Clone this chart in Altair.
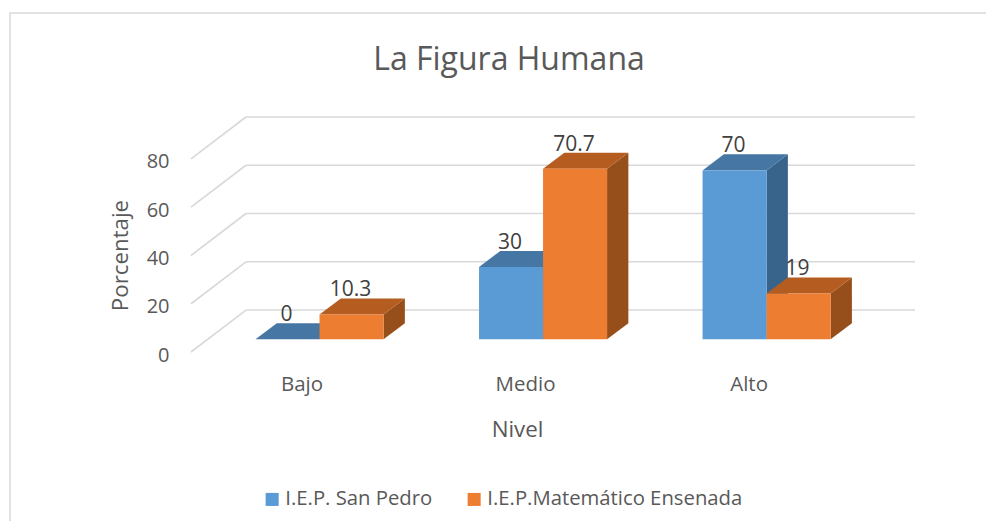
import altair as alt
import pandas as pd

# ---- data ----
categories = ["Bajo", "Medio", "Alto"]
series_names = ["I.E.P. San Pedro", "I.E.P.Matemático Ensenada"]
san_pedro = [0, 30, 70]
ensenada = [10.3, 70.7, 19]
value_labels_sp = ["0", "30", "70"]
value_labels_en = ["10.3", "70.7", "19"]
y_ticks = [0, 20, 40, 60, 80]

# ---- projection of the fake 3D (in scale units) ----
X_DOMAIN = [-0.575, 2.664]
Y_DOMAIN = [0, 97.4]
WALL_DX, WALL_DY = 0.246, 17.4
BASE_DY = 5.27
BAR_HALF = 0.2864
BAR_DX, BAR_DY = 0.0953, 6.64

FONT = "Open Sans"
TXT = "#595959"
FACES = {
    series_names[0]: ("#5B9BD5", "#4676A3", "#38648B"),
    series_names[1]: ("#ED7D31", "#B55D20", "#964F1B"),
}

xs = alt.Scale(domain=X_DOMAIN, nice=False, zero=False)
ys = alt.Scale(domain=Y_DOMAIN, nice=False, zero=False)

label_expr = "[" + ",".join(f"'{c}'" for c in categories) + "][datum.value]"
X_AXIS = alt.Axis(
    values=[0, 1, 2], labelExpr=label_expr, title="Nivel", grid=False, domain=False, ticks=False,
    labelFont=FONT, labelFontSize=20.5, labelColor=TXT, labelPadding=22, labelOffset=-18,
    labelFlush=False, labelOverlap=False,
    titleFont=FONT, titleFontSize=22.3, titleFontWeight="normal", titleColor=TXT,
    titleX=326, titleY=77, titleBaseline="middle", titleAlign="center",
)
Y_AXIS = alt.Axis(
    values=y_ticks, title="Porcentaje", grid=False, domain=False, ticks=False,
    labelFont=FONT, labelFontSize=20, labelColor=TXT, labelPadding=22, labelAlign="right",
    labelOffset=3, labelBaseline="middle", labelOverlap=False,
    titleFont=FONT, titleFontSize=22.3, titleFontWeight="normal", titleColor=TXT,
    titleX=-71, titleY=138, titleBaseline="middle", titleAlign="center",
)


def X(field="x"):
    return alt.X(f"{field}:Q", scale=xs, axis=X_AXIS)


def Y(field="y"):
    return alt.Y(f"{field}:Q", scale=ys, axis=Y_AXIS)


# frame of the whole chart: its right and bottom edges lie outside the picture
frame = alt.Chart(pd.DataFrame({"a": [0]})).mark_rect(
    fillOpacity=0, stroke="#D9D9D9", strokeWidth=1.5
).encode(x=alt.value(-181), x2=alt.value(830), y=alt.value(-104), y2=alt.value(440))

# walls
grid_rows = []
for t in y_ticks:
    grid_rows.append(dict(x=X_DOMAIN[0] + WALL_DX, x2=X_DOMAIN[1], y=t + WALL_DY, y2=t + WALL_DY))
    grid_rows.append(dict(x=X_DOMAIN[0], x2=X_DOMAIN[0] + WALL_DX, y=t, y2=t + WALL_DY))
grid_df = pd.DataFrame(grid_rows)
walls = alt.Chart(grid_df).mark_rule(color="#D9D9D9", strokeWidth=1.6).encode(
    x=X(), x2="x2:Q", y=Y(), y2="y2:Q"
)

layers = [frame, walls]
color_scale = alt.Scale(domain=series_names, range=[FACES[s][0] for s in series_names])

for s_idx, (name, vals) in enumerate(zip(series_names, [san_pedro, ensenada])):
    front_c, top_c, side_c = FACES[name]
    front, side, top = [], [], []
    for i, v in enumerate(vals):
        x0 = i - BAR_HALF + s_idx * BAR_HALF
        x1 = x0 + BAR_HALF
        y0, y1 = BASE_DY, BASE_DY + v
        front.append(dict(x=x0, x2=x1, y=y0, y2=y1, s=name))
        side.append(dict(b=i, x=x1, y=y0, y2=y1))
        side.append(dict(b=i, x=x1 + BAR_DX, y=y0 + BAR_DY, y2=y1 + BAR_DY))
        top.append(dict(b=i, y=y1, x=x0, x2=x1))
        top.append(dict(b=i, y=y1 + BAR_DY, x=x0 + BAR_DX, x2=x1 + BAR_DX))
    side_layer = alt.Chart(pd.DataFrame(side)).mark_area(color=side_c, orient="vertical").encode(
        x=X(), y=Y(), y2="y2:Q", detail="b:N"
    )
    top_layer = alt.Chart(pd.DataFrame(top)).mark_area(color=top_c, orient="horizontal").encode(
        x=X(), x2="x2:Q", y=Y(), detail="b:N"
    )
    front_layer = alt.Chart(pd.DataFrame(front)).mark_rect().encode(
        x=X(), x2="x2:Q", y=Y(), y2="y2:Q",
        color=alt.Color("s:N", scale=color_scale, legend=alt.Legend(
            title=None, orient="none", legendX=71, legendY=372, direction="horizontal",
            symbolType="square", symbolSize=170, symbolStrokeWidth=0, symbolOpacity=1,
            labelFont=FONT, labelFontSize=20.3, labelColor=TXT, labelOffset=3,
            columnPadding=31, labelLimit=400,
        )),
    )
    layers += [side_layer, top_layer, front_layer]

label_rows = []
for s_idx, (vals, texts) in enumerate(zip([san_pedro, ensenada], [value_labels_sp, value_labels_en])):
    for i, (v, t) in enumerate(zip(vals, texts)):
        label_rows.append(dict(
            x=i - BAR_HALF / 2 + s_idx * BAR_HALF, y=BASE_DY + v + BAR_DY, t=t
        ))
labels = alt.Chart(pd.DataFrame(label_rows)).mark_text(
    font=FONT, fontSize=21, color="#404040", baseline="bottom", dy=2, dx=-1, align="center"
).encode(x=X(), y=Y(), text="t:N")
layers.append(labels)

chart = alt.layer(*layers).resolve_scale(color="shared").properties(
    width=724,
    height=235,
    title=alt.TitleParams(
        "La Figura Humana", font=FONT, fontSize=32, fontWeight="normal", color=TXT,
        anchor="middle", dx=-44, offset=-65,
    ),
    padding={"left": 183, "top": 109, "right": 71, "bottom": 169},
    autosize=alt.AutoSizeParams(type="none"),
    background="white",
).configure_view(stroke=None)

chart.save("out.html", embed_options={"renderer": "svg", "actions": False})
